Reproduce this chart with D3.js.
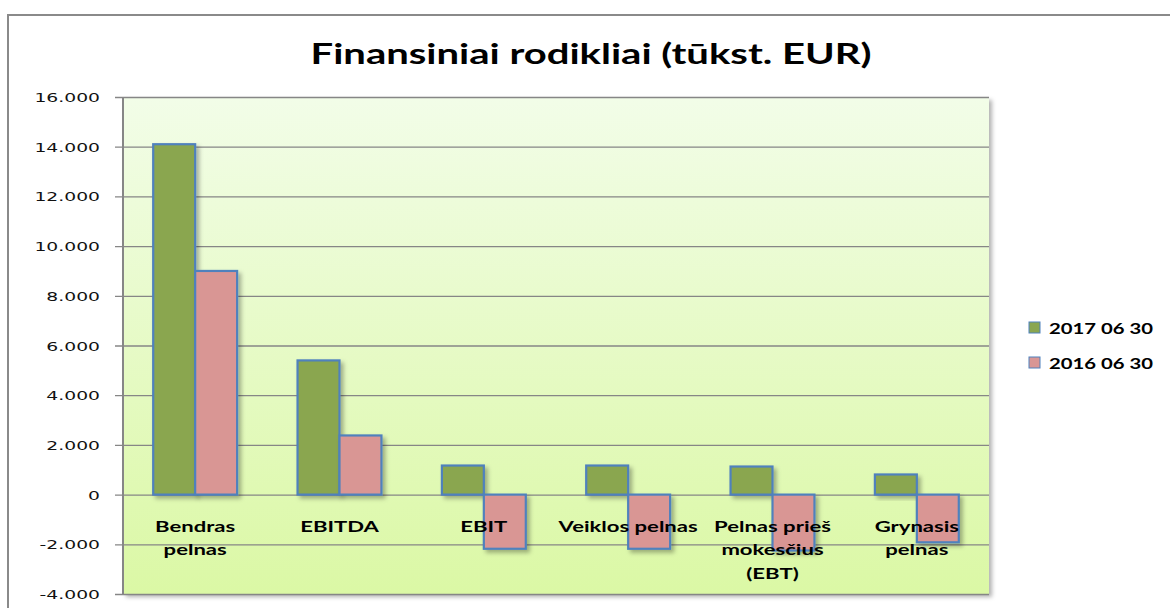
<!DOCTYPE html>
<html>
<head>
<meta charset="utf-8">
<script src="https://cdn.jsdelivr.net/npm/d3@7"></script>
<style>
  html, body { margin: 0; padding: 0; background: #fff; }
  svg { display: block; }
  text { font-family: Lato, "Open Sans", sans-serif; fill: #000; }
</style>
</head>
<body>
<svg id="chart" width="1170" height="608"></svg>
<script>
// data
const categories = ["Bendras pelnas", "EBITDA", "EBIT", "Veiklos pelnas", "Pelnas prieš mokesčius (EBT)", "Grynasis pelnas"];
const categoryLines = [["Bendras", "pelnas"], ["EBITDA"], ["EBIT"], ["Veiklos pelnas"], ["Pelnas prieš", "mokesčius", "(EBT)"], ["Grynasis", "pelnas"]];
const seriesNames = ["2017 06 30", "2016 06 30"];
const values2017 = [14100, 5400, 1170, 1170, 1130, 810];
const values2016 = [9000, 2380, -2180, -2180, -2250, -1920];
const tickValues = [-4000, -2000, 0, 2000, 4000, 6000, 8000, 10000, 12000, 14000, 16000];
const chartTitle = "Finansiniai rodikliai (tūkst. EUR)";

const colors = { "2017 06 30": "#8aa64f", "2016 06 30": "#d99694" };
const barStroke = "#4f81bd";

const svg = d3.select("#chart");
const plot = { left: 123, right: 989, top: 97, bottom: 594 };

const defs = svg.append("defs");
const grad = defs.append("linearGradient").attr("id", "bg").attr("x1", 0).attr("y1", 0).attr("x2", 0).attr("y2", 1);
grad.append("stop").attr("offset", "0%").attr("stop-color", "#f2fde8");
grad.append("stop").attr("offset", "100%").attr("stop-color", "#dbf8a5");

const shadow = defs.append("filter").attr("id", "shadow").attr("x", "-20%").attr("y", "-20%").attr("width", "150%").attr("height", "150%");
shadow.append("feDropShadow").attr("dx", 3).attr("dy", 3).attr("stdDeviation", 2)
    .attr("flood-color", "#000").attr("flood-opacity", 0.3);

// outer chart border (runs off the picture right and bottom)
svg.append("rect")
    .attr("x", 8).attr("y", 15).attr("width", 1200).attr("height", 700)
    .attr("fill", "none").attr("stroke", "#8a8a8a").attr("stroke-width", 2);

// horizontal stretch helper, the reference text is wide
function stretch(sel, sx) {
    sel.each(function() {
        const t = d3.select(this);
        const x = +t.attr("x") || 0, y = +t.attr("y") || 0;
        t.attr("x", 0).attr("y", 0)
            .attr("transform", `translate(${x},${y}) scale(${sx},1)`);
    });
}

// title
const title = svg.append("text")
    .attr("x", 591).attr("y", 64)
    .attr("text-anchor", "middle")
    .style("font-size", "29px").style("font-weight", "bold")
    .text(chartTitle);
stretch(title, 561 / title.node().getComputedTextLength());

// scales
const x = d3.scaleBand().domain(categories).range([plot.left, plot.right]);
const xSub = d3.scaleBand().domain(seriesNames).range([0, x.bandwidth()]).paddingOuter(0.72);
const y = d3.scaleLinear().domain([-4000, 16000]).range([plot.bottom, plot.top]);

// plot area
svg.append("rect")
    .attr("x", plot.left).attr("y", plot.top)
    .attr("width", plot.right - plot.left).attr("height", plot.bottom - plot.top)
    .attr("fill", "url(#bg)")
    .attr("filter", "url(#shadow)");

// grid + y axis
const fmt = d3.formatLocale({ decimal: ",", thousands: ".", grouping: [3], currency: ["", ""], minus: "-" }).format(",");
const yAxis = d3.axisLeft(y)
    .tickValues(tickValues)
    .tickFormat(fmt)
    .tickSize(-(plot.right - plot.left) - 8)
    .tickPadding(23);
const gy = svg.append("g")
    .attr("transform", `translate(${plot.right},0)`)
    .call(yAxis);
gy.select(".domain").remove();
gy.selectAll(".tick line").attr("x1", 0).attr("x2", -(plot.right - plot.left) - 8)
    .attr("stroke", "#868686").attr("stroke-width", 1.3);
gy.selectAll(".tick text")
    .attr("x", -(plot.right - plot.left) - 23)
    .attr("dy", "0.36em")
    .style("font-family", "'DejaVu Sans', sans-serif")
    .style("font-size", "12.5px")
    .style("fill", "#111");
stretch(gy.selectAll(".tick text"), 1.5);

svg.append("line")
    .attr("x1", plot.left).attr("x2", plot.left)
    .attr("y1", plot.top).attr("y2", plot.bottom)
    .attr("stroke", "#868686").attr("stroke-width", 2);

// bars
const rows = categories.map((c, i) => ({ cat: c, vals: [
    { s: seriesNames[0], v: values2017[i] },
    { s: seriesNames[1], v: values2016[i] }
]}));

const groups = svg.append("g").selectAll("g")
    .data(rows)
    .join("g")
    .attr("transform", d => `translate(${x(d.cat)},0)`);

groups.selectAll("rect")
    .data(d => d.vals)
    .join("rect")
    .attr("x", d => xSub(d.s))
    .attr("width", xSub.bandwidth())
    .attr("y", d => y(Math.max(0, d.v)))
    .attr("height", d => Math.abs(y(d.v) - y(0)))
    .attr("fill", d => colors[d.s])
    .attr("stroke", barStroke)
    .attr("stroke-width", 2.2)
    .attr("filter", "url(#shadow)");

// category labels (drawn over the bars)
categories.forEach((c, i) => {
    categoryLines[i].forEach((line, j) => {
        const t = svg.append("text")
            .attr("x", x(c) + x.bandwidth() / 2)
            .attr("y", y(0) + 37 + j * 23.5)
            .attr("text-anchor", "middle")
            .style("font-size", "16px").style("font-weight", "bold")
            .text(line);
        stretch(t, 1.38);
    });
});

// legend
const legend = svg.append("g").selectAll("g")
    .data(seriesNames)
    .join("g")
    .attr("transform", (d, i) => `translate(1029,${322 + i * 35})`);
legend.append("rect")
    .attr("width", 11).attr("height", 11)
    .attr("fill", d => colors[d])
    .attr("stroke", barStroke).attr("stroke-width", 1);
legend.append("text")
    .attr("x", 20).attr("y", 11.5)
    .style("font-size", "16px").style("font-weight", "bold")
    .text(d => d)
    .each(function() { stretch(d3.select(this), 104 / this.getComputedTextLength()); });
</script>
</body>
</html>
